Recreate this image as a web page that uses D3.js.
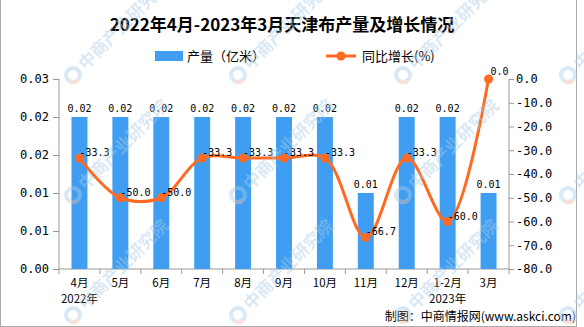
<!DOCTYPE html>
<html>
<head>
<meta charset="utf-8">
<script src="https://cdn.jsdelivr.net/npm/d3@7"></script>
<style>
  body { margin: 0; background: #fff; }
  svg { display: block; font-family: "Noto Sans CJK SC", sans-serif; }
</style>
</head>
<body>
<svg id="chart" width="584" height="327"></svg>
<script>
var months = ["4月", "5月", "6月", "7月", "8月", "9月", "10月", "11月", "12月", "1-2月", "3月"];
var years = ["2022年", "", "", "", "", "", "", "", "", "2023年", ""];
var output = [0.02, 0.02, 0.02, 0.02, 0.02, 0.02, 0.02, 0.01, 0.02, 0.02, 0.01];
var growth = [-33.3, -50.0, -50.0, -33.3, -33.3, -33.3, -33.3, -66.7, -33.3, -60.0, 0.0];

var leftTicks = [0, 0.005, 0.01, 0.015, 0.02, 0.025];
var leftTickLabels = ["0.00", "0.01", "0.01", "0.02", "0.02", "0.03"];
var rightTicks = [0, -10, -20, -30, -40, -50, -60, -70, -80];

var barColor = "#3f9ef2";
var lineColor = "#ff6a22";
var axisColor = "#999";
var monoFont = "'DejaVu Sans Mono', monospace";

var margin = {top: 79, right: 75, bottom: 58, left: 59};
var svg = d3.select("#chart");
var width = +svg.attr("width") - margin.left - margin.right;
var height = +svg.attr("height") - margin.top - margin.bottom;

// outer frame
svg.append("rect")
  .attr("x", 0.5).attr("y", -2)
  .attr("width", 576).attr("height", 328.5)
  .attr("fill", "none").attr("stroke", "#aaa");

svg.append("text")
  .attr("x", 282).attr("y", 31)
  .attr("text-anchor", "middle")
  .attr("font-size", 17).attr("font-weight", "bold")
  .text("2022年4月-2023年3月天津布产量及增长情况");

// legend
svg.append("rect").attr("x", 155).attr("y", 51).attr("width", 28).attr("height", 10).attr("fill", barColor);
svg.append("text").attr("x", 187).attr("y", 61).attr("font-size", 13).text("产量（亿米）");
svg.append("line").attr("x1", 326).attr("x2", 356).attr("y1", 56).attr("y2", 56)
  .attr("stroke", lineColor).attr("stroke-width", 3);
svg.append("circle").attr("cx", 341).attr("cy", 56).attr("r", 4.5).attr("fill", lineColor);
svg.append("text").attr("x", 362).attr("y", 61).attr("font-size", 13).text("同比增长(%)");

var g = svg.append("g").attr("transform", `translate(${margin.left}, ${margin.top})`);

var x = d3.scaleBand().domain(months).range([0, width]).paddingInner(0.61).paddingOuter(0.305);
var slot = d3.scaleBand().domain(months).range([0, width]);
var yL = d3.scaleLinear().domain([0, 0.025]).range([height, 0]);
var yR = d3.scaleLinear().domain([-80, 0]).range([height, 0]);

// left axis
var leftAxis = g.append("g")
  .call(d3.axisLeft(yL).tickValues(leftTicks).tickSize(6).tickPadding(4)
    .tickFormat((d, i) => leftTickLabels[i]));
// right axis
var rightAxis = g.append("g").attr("transform", `translate(${width}, 0)`)
  .call(d3.axisRight(yR).tickValues(rightTicks).tickSize(5).tickPadding(2)
    .tickFormat(d => d.toFixed(1)));

[leftAxis, rightAxis].forEach(a => {
  a.select(".domain").attr("stroke", axisColor).attr("d", `M0,0V${height}`);
  a.selectAll(".tick line").attr("stroke", axisColor);
  a.selectAll(".tick text").attr("font-family", monoFont).attr("font-size", 12).attr("fill", "#000");
});

// bottom axis: ticks between categories
var bottom = g.append("g").attr("transform", `translate(0, ${height})`);
bottom.append("line").attr("x1", 0).attr("x2", width).attr("stroke", axisColor);
bottom.selectAll(".sep")
  .data(months.map(m => slot(m)).concat([width]))
  .enter().append("line")
  .attr("x1", d => d).attr("x2", d => d)
  .attr("y1", 0).attr("y2", 5)
  .attr("stroke", axisColor);

bottom.selectAll(".mlabel")
  .data(months)
  .enter().append("text")
  .attr("x", d => x(d) + x.bandwidth() / 2)
  .attr("y", 18)
  .attr("text-anchor", "middle")
  .attr("font-size", 11.5)
  .text(d => d);

bottom.selectAll(".ylabel")
  .data(years)
  .enter().append("text")
  .attr("x", (d, i) => x(months[i]) + x.bandwidth() / 2)
  .attr("y", 34)
  .attr("text-anchor", "middle")
  .attr("font-size", 11.5)
  .text(d => d);

// bars
g.selectAll(".bar")
  .data(output)
  .enter().append("rect")
  .attr("x", (d, i) => x(months[i]))
  .attr("y", d => yL(d))
  .attr("width", x.bandwidth())
  .attr("height", d => height - yL(d))
  .attr("fill", barColor);

g.selectAll(".barlabel")
  .data(output)
  .enter().append("text")
  .attr("x", (d, i) => x(months[i]) + x.bandwidth() / 2)
  .attr("y", d => yL(d) - 5)
  .attr("text-anchor", "middle")
  .attr("font-family", monoFont)
  .attr("font-size", 10)
  .text(d => d.toFixed(2));

// growth line
var cx = (d, i) => x(months[i]) + x.bandwidth() / 2;
var line = d3.line()
  .x(cx)
  .y(d => yR(d))
  .curve(d3.curveCatmullRom.alpha(0.5));

g.append("path")
  .datum(growth)
  .attr("fill", "none")
  .attr("stroke", lineColor)
  .attr("stroke-width", 3)
  .attr("d", line);

g.selectAll(".dot")
  .data(growth)
  .enter().append("circle")
  .attr("cx", cx)
  .attr("cy", d => yR(d))
  .attr("r", 4.5)
  .attr("fill", lineColor);

g.selectAll(".linelabel")
  .data(growth)
  .enter().append("text")
  .attr("x", (d, i) => cx(d, i) + (d === 0 ? 2 : 0))
  .attr("y", d => yR(d) - (d === 0 ? 4 : 2))
  .attr("font-family", monoFont)
  .attr("font-size", 10)
  .text(d => d.toFixed(1));

// source note
svg.append("text")
  .attr("x", 576).attr("y", 320.5)
  .attr("text-anchor", "end")
  .attr("font-size", 12)
  .text("制图：中商情报网(www.askci.com)");

// watermark tiles
var markX = [73, 238, 403, 568];
var markY = [75, 195, 315];
var marks = svg.append("g").attr("opacity", 0.45).attr("pointer-events", "none");
markY.forEach(my => markX.forEach(mx => {
  var m = marks.append("g").attr("transform", `translate(${mx}, ${my})`);
  m.append("circle").attr("r", 7).attr("fill", "none").attr("stroke", "#a9cbe6").attr("stroke-width", 4);
  m.append("path").attr("d", d3.arc()({innerRadius: 5, outerRadius: 9, startAngle: 2.4, endAngle: 3.6}))
    .attr("fill", "#f3b9a4");
  m.append("text")
    .attr("transform", "rotate(-45) translate(12, 6)")
    .attr("font-size", 17).attr("font-weight", "bold")
    .attr("fill", "#a9cbe6")
    .text("中商产业研究院");
}));
</script>
</body>
</html>
